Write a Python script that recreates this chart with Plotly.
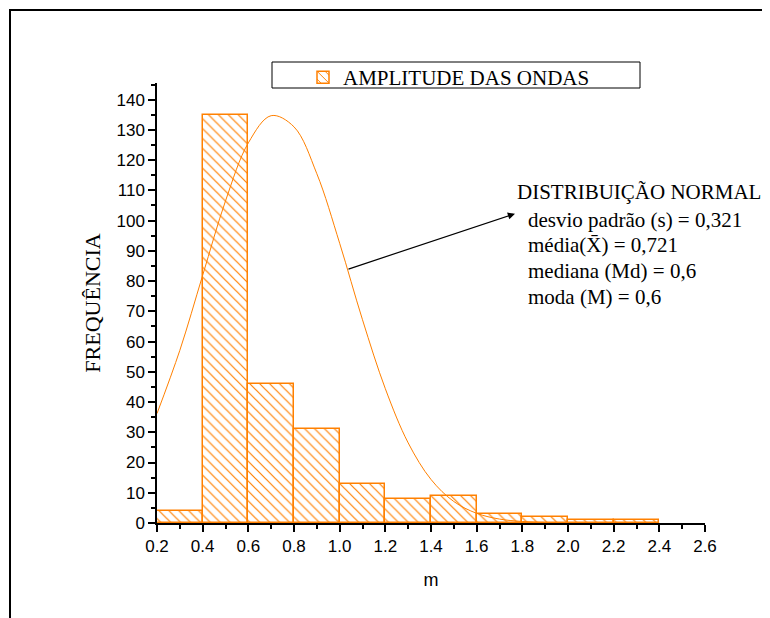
import plotly.graph_objects as go

# histogram bins (left edge of each 0.2 m class) and counts
bin_left = [0.2, 0.4, 0.6, 0.8, 1.0, 1.2, 1.4, 1.6, 1.8, 2.0, 2.2]
counts = [4, 135, 46, 31, 13, 8, 9, 3, 2, 1, 1]
bin_width = 0.2

# fitted normal curve
curve_x = [0.2, 0.3, 0.4, 0.5, 0.6, 0.7, 0.8, 0.9, 1.0, 1.1, 1.2, 1.3,
           1.4, 1.5, 1.6, 1.7, 1.8, 1.9, 2.0, 2.2, 2.4]
curve_y = [36.2, 57.1, 81.9, 106.5, 125.7, 134.7, 131.0, 115.5, 92.5, 67.2,
           44.4, 26.5, 14.4, 7.1, 3.2, 1.3, 0.5, 0.16, 0.05, 0, 0]

stats_title = "DISTRIBUIÇÃO NORMAL"
stats_lines = [
    "desvio padrão (s) = 0,321",
    "média(X\u0304) = 0,721",
    "mediana (Md) = 0,6",
    "moda (M) = 0,6",
]

ORANGE = "#FF8000"
SERIF = "Liberation Serif, Times New Roman, serif"
SANS = "Liberation Sans, Arial, sans-serif"

fig = go.Figure()

fig.add_trace(go.Bar(
    x=bin_left,
    y=counts,
    width=bin_width,
    offset=0,
    name="AMPLITUDE DAS ONDAS",
    marker=dict(
        color="white",
        line=dict(color=ORANGE, width=1.5),
        pattern=dict(shape="\\", fgcolor=ORANGE, fgopacity=1, bgcolor="white",
                     size=7, solidity=0.17),
    ),
))

fig.add_trace(go.Scatter(
    x=curve_x,
    y=curve_y,
    mode="lines",
    line=dict(color=ORANGE, width=1, shape="spline"),
    showlegend=False,
))

# arrow from the curve to the text block
fig.add_annotation(
    x=1.768, y=102.3, ax=1.032, ay=83.8,
    xref="x", yref="y", axref="x", ayref="y",
    text="", showarrow=True, arrowhead=2, arrowsize=1.2,
    arrowwidth=1.2, arrowcolor="black",
)

fig.add_annotation(
    x=1.77, y=109.3, xref="x", yref="y", xanchor="left",
    text=stats_title, showarrow=False,
    font=dict(family=SERIF, size=21, color="black"),
)
for i, line in enumerate(stats_lines):
    fig.add_annotation(
        x=1.818, y=100.3 - i * 8.5, xref="x", yref="y", xanchor="left",
        text=line, showarrow=False,
        font=dict(family=SERIF, size=21, color="black"),
    )

# legend box and outer frame
fig.add_shape(type="rect", xref="paper", yref="paper",
              x0=(272 - 157) / 548, x1=(640 - 157) / 548,
              y0=(523 - 88) / 440, y1=(523 - 62) / 440,
              line=dict(color="black", width=1))
fig.add_shape(type="rect", xref="paper", yref="paper",
              x0=(10 - 157) / 548, x1=(766 - 157) / 548,
              y0=(523 - 640) / 440, y1=(523 - 10) / 440,
              line=dict(color="black", width=2))

# page body has an 8px margin, so the figure is drawn 8px smaller
fig.update_layout(
    width=762,
    height=610,
    template="plotly_white",
    plot_bgcolor="white",
    paper_bgcolor="white",
    margin=dict(l=149, r=65, t=75, b=95),
    bargap=0,
    showlegend=True,
    legend=dict(
        x=(303 - 157) / 548, y=(523 - 57) / 440,
        xanchor="left", yanchor="top",
        bgcolor="rgba(0,0,0,0)", borderwidth=0,
        font=dict(family=SERIF, size=21, color="black"),
    ),
    xaxis=dict(
        range=[0.2, 2.6],
        tickvals=[0.2, 0.4, 0.6, 0.8, 1.0, 1.2, 1.4, 1.6, 1.8, 2.0, 2.2, 2.4, 2.6],
        tickformat=".1f",
        showgrid=False, zeroline=False,
        showline=True, linecolor="black", linewidth=1.5,
        ticks="outside", ticklen=7, tickwidth=1.5, tickcolor="black",
        minor=dict(dtick=0.1, ticks="outside", ticklen=4, tickcolor="black", showgrid=False),
        tickfont=dict(family=SANS, size=17, color="black"),
        title=dict(text="m", font=dict(family=SANS, size=18, color="black"), standoff=18),
    ),
    yaxis=dict(
        range=[0, 145.5],
        tickvals=list(range(0, 141, 10)),
        showgrid=False, zeroline=False,
        showline=True, linecolor="black", linewidth=1.5,
        ticks="outside", ticklen=7, tickwidth=1.5, tickcolor="black",
        minor=dict(dtick=5, ticks="outside", ticklen=4, tickcolor="black", showgrid=False),
        tickfont=dict(family=SANS, size=17, color="black"),
        title=dict(text="FREQUÊNCIA", font=dict(family=SERIF, size=22, color="black"), standoff=10),
    ),
)

fig.write_html("out.html")
